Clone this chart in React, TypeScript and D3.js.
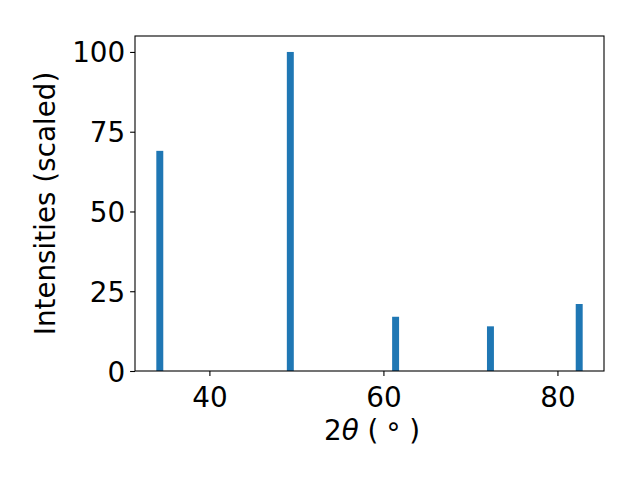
import * as d3 from "d3";
import React, { useEffect, useRef } from "react";

// peak positions (2theta, degrees) and scaled intensities
const peakPositions = [34.3, 49.3, 61.4, 72.3, 82.5];
const peakIntensities = [69, 100, 17, 14, 21];
const xTicks = [40, 60, 80];
const yTicks = [0, 25, 50, 75, 100];
const barWidth = 0.8;

const W = 640;
const H = 480;
const margin = { left: 135, right: 36, top: 36, bottom: 109 };
const FONT = "DejaVu Sans, sans-serif";

const App: React.FC = () => {
    const axRef = useRef<SVGGElement>(null);

    useEffect(() => {
        document.body.style.margin = "0";
    }, []);

    const iw = W - margin.left - margin.right;
    const ih = H - margin.top - margin.bottom;

    // matplotlib-like 5% margins around the bar extent
    const lo = d3.min(peakPositions)! - barWidth / 2;
    const hi = d3.max(peakPositions)! + barWidth / 2;
    const pad = (hi - lo) * 0.05;
    const x = d3.scaleLinear().domain([lo - pad, hi + pad]).range([0, iw]);
    const y = d3.scaleLinear().domain([0, d3.max(peakIntensities)! * 1.05]).range([ih, 0]);

    useEffect(() => {
        const g = d3.select(axRef.current);
        g.selectAll("*").remove();

        const xAxis = g.append("g").attr("transform", `translate(0,${ih})`)
            .call(d3.axisBottom(x).tickValues(xTicks).tickSize(4.9).tickPadding(4.9).tickFormat(d3.format("d")));
        const yAxis = g.append("g")
            .call(d3.axisLeft(y).tickValues(yTicks).tickSize(4.9).tickPadding(4.9).tickFormat(d3.format("d")));

        [xAxis, yAxis].forEach(a => {
            a.select(".domain").remove();
            a.selectAll("line").attr("stroke", "#000").attr("stroke-width", 1.1);
            a.selectAll("text").attr("font-family", FONT).attr("font-size", 27.8).attr("fill", "#000");
        });
        xAxis.selectAll("text").attr("dy", "0.95em");
        yAxis.selectAll("text").attr("dy", "0.36em");
    }, []);

    return (
        <svg width={W} height={H} style={{ display: "block" }}>
            <rect width={W} height={H} fill="#fff" />
            <g transform={`translate(${margin.left},${margin.top})`}>
                {peakPositions.map((p, i) => (
                    <rect
                        key={i}
                        x={x(p - barWidth / 2)}
                        y={y(peakIntensities[i])}
                        width={x(p + barWidth / 2) - x(p - barWidth / 2)}
                        height={ih - y(peakIntensities[i])}
                        fill="#1f77b4"
                    />
                ))}
                <g ref={axRef} />
                <rect x={0} y={0} width={iw} height={ih} fill="none" stroke="#000" strokeWidth={1.1} />
            </g>
            <text
                x={324}
                y={440}
                fontFamily={FONT}
                fontSize={27.8}
                fill="#000"
            >
                2<tspan fontStyle="italic">θ</tspan> (<tspan dx={8} dy={3}>°</tspan><tspan dx={9} dy={-3}>)</tspan>
            </text>
            <text
                transform={`translate(55,${margin.top + ih / 2}) rotate(-90)`}
                textAnchor="middle"
                fontFamily={FONT}
                fontSize={27.8}
                fill="#000"
            >
                Intensities (scaled)
            </text>
        </svg>
    );
};

export default App;
